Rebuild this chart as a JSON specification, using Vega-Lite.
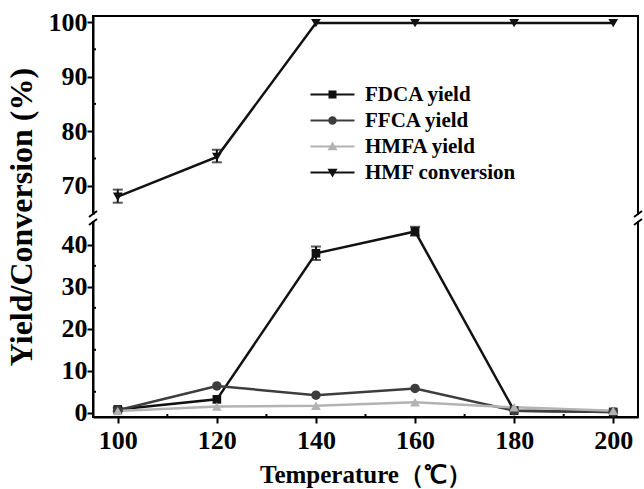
{
  "$schema": "https://vega.github.io/schema/vega-lite/v6.json",
  "width": 545,
  "height": 401,
  "autosize": {"type": "none"},
  "padding": {"left": 93, "top": 16, "right": 6, "bottom": 72},
  "background": "white",
  "config": {
    "view": {"stroke": "black", "strokeWidth": 2},
    "font": "Liberation Serif",
    "axis": {
      "domainColor": "black",
      "domainWidth": 2,
      "tickColor": "black",
      "tickWidth": 2,
      "tickSize": 6,
      "grid": false,
      "labelOverlap": false,
      "labelFont": "Liberation Serif",
      "labelFontWeight": "bold",
      "labelColor": "black",
      "labelFontSize": 26,
      "titleFont": "Liberation Serif",
      "titleFontWeight": "bold",
      "titleColor": "black"
    }
  },
  "datasets": {
    "main": [
      {"T": 100, "series": "FDCA yield", "v": 0.8, "lo": 0.4, "hi": 1.2},
      {"T": 120, "series": "FDCA yield", "v": 3.2},
      {"T": 140, "series": "FDCA yield", "v": 38.0, "lo": 36.4, "hi": 39.6},
      {"T": 160, "series": "FDCA yield", "v": 43.2, "lo": 42.2, "hi": 44.3},
      {"T": 180, "series": "FDCA yield", "v": 0.5},
      {"T": 200, "series": "FDCA yield", "v": 0.2},
      {"T": 100, "series": "FFCA yield", "v": 0.6},
      {"T": 120, "series": "FFCA yield", "v": 6.4},
      {"T": 140, "series": "FFCA yield", "v": 4.2},
      {"T": 160, "series": "FFCA yield", "v": 5.8},
      {"T": 180, "series": "FFCA yield", "v": 0.5},
      {"T": 200, "series": "FFCA yield", "v": 0.2},
      {"T": 100, "series": "HMFA yield", "v": 0.4},
      {"T": 120, "series": "HMFA yield", "v": 1.5},
      {"T": 140, "series": "HMFA yield", "v": 1.7},
      {"T": 160, "series": "HMFA yield", "v": 2.5},
      {"T": 180, "series": "HMFA yield", "v": 1.3},
      {"T": 200, "series": "HMFA yield", "v": 0.5},
      {"T": 100, "series": "HMF conversion", "v": 68.0, "lo": 66.9, "hi": 69.3},
      {"T": 120, "series": "HMF conversion", "v": 75.3, "lo": 74.3, "hi": 76.6},
      {"T": 140, "series": "HMF conversion", "v": 99.8},
      {"T": 160, "series": "HMF conversion", "v": 99.8},
      {"T": 180, "series": "HMF conversion", "v": 99.8},
      {"T": 200, "series": "HMF conversion", "v": 99.8}
    ],
    "minorY": [{"m": 5}, {"m": 15}, {"m": 25}, {"m": 35}, {"m": 75}, {"m": 85}, {"m": 95}],
    "minorX": [{"m": 110}, {"m": 130}, {"m": 150}, {"m": 170}, {"m": 190}],
    "gaps": [
      {"x": 95, "y": 64.65, "y2": 45.69},
      {"x": 205, "y": 64.65, "y2": 45.69}
    ],
    "slashes": [
      {"x": 94.19, "x2": 95.81, "y": 64.28, "y2": 65.38},
      {"x": 94.19, "x2": 95.81, "y": 44.73, "y2": 46.16},
      {"x": 204.19, "x2": 205.81, "y": 64.28, "y2": 65.38},
      {"x": 204.19, "x2": 205.81, "y": 44.73, "y2": 46.16}
    ]
  },
  "layer": [
    {
      "data": {"name": "main"},
      "mark": {"type": "line", "strokeWidth": 2.5},
      "encoding": {
        "x": {
          "field": "T",
          "type": "quantitative",
          "scale": {"domain": [95, 205], "nice": false, "zero": false},
          "axis": {
            "title": "Temperature（℃）",
            "titleFontSize": 25,
            "titlePadding": 9,
            "values": [100, 120, 140, 160, 180, 200],
            "labelPadding": 4,
            "labelFlush": false,
            "encode": {"ticks": {"update": {"y2": {"value": -6}}}}
          }
        },
        "y": {
          "field": "v",
          "type": "quantitative",
          "scale": {"domain": [-1, 46.4, 64.1, 101.1], "range": [401, 202, 202, 0], "nice": false, "zero": false},
          "axis": {
            "title": "Yield/Conversion (%)",
            "titleFontSize": 32,
            "titlePadding": 10,
            "values": [0, 10, 20, 30, 40, 70, 80, 90, 100],
            "labelPadding": 0,
            "labelFlush": false,
            "encode": {"ticks": {"update": {"x2": {"value": 6}}}}
          }
        },
        "color": {
          "field": "series",
          "type": "nominal",
          "scale": {
            "domain": ["FDCA yield", "FFCA yield", "HMFA yield", "HMF conversion"],
            "range": ["#111111", "#3d3d3d", "#b3b3b3", "#111111"]
          },
          "legend": {
            "title": null,
            "orient": "none",
            "legendX": 229,
            "legendY": 68,
            "padding": 0,
            "symbolSize": 100,
            "symbolStrokeWidth": 0,
            "labelOffset": 22,
            "rowPadding": 4,
            "labelFont": "Liberation Serif",
            "labelFontWeight": "bold",
            "labelFontSize": 21,
            "labelColor": "black",
            "labelLimit": 300,
            "encode": {
              "symbols": {
                "update": {
                  "opacity": {"value": 1},
                  "strokeWidth": {"value": 0},
                  "fill": {"scale": "color", "field": "value"},
                  "shape": {"signal": "datum.value === 'FDCA yield' ? 'M-4.4,-0.22H4.4V0.22H-4.4Z M-0.8,-0.8H0.8V0.8H-0.8Z' : datum.value === 'FFCA yield' ? 'M-4.4,-0.22H4.4V0.22H-4.4Z M0.85,0A0.85,0.85,0,1,1,-0.85,0A0.85,0.85,0,1,1,0.85,0Z' : datum.value === 'HMFA yield' ? 'M-4.4,-0.22H4.4V0.22H-4.4Z M1,0.75L-1,0.75L0,-1Z' : 'M-4.4,-0.22H4.4V0.22H-4.4Z M-1,-0.75L1,-0.75L0,1Z'"}
                }
              }
            }
          }
        },
        "detail": {"field": "series"}
      }
    },
    {
      "data": {"name": "minorY"},
      "mark": {"type": "rule", "strokeWidth": 2, "color": "black"},
      "encoding": {
        "x": {"datum": 95, "type": "quantitative"},
        "x2": {"datum": 95.6},
        "y": {"field": "m", "type": "quantitative"}
      }
    },
    {
      "data": {"name": "minorX"},
      "mark": {"type": "rule", "strokeWidth": 2, "color": "black"},
      "encoding": {
        "x": {"field": "m", "type": "quantitative"},
        "y": {"datum": -1, "type": "quantitative"},
        "y2": {"datum": -0.3}
      }
    },
    {
      "data": {"name": "main"},
      "transform": [{"filter": "isValid(datum.lo)"}],
      "mark": {"type": "rule", "strokeWidth": 2, "color": "#111111"},
      "encoding": {
        "x": {"field": "T", "type": "quantitative"},
        "y": {"field": "lo", "type": "quantitative"},
        "y2": {"field": "hi"}
      }
    },
    {
      "data": {"name": "main"},
      "transform": [{"filter": "isValid(datum.lo)"}],
      "mark": {"type": "tick", "orient": "horizontal", "thickness": 2, "size": 10, "color": "#111111"},
      "encoding": {
        "x": {"field": "T", "type": "quantitative"},
        "y": {"field": "lo", "type": "quantitative"}
      }
    },
    {
      "data": {"name": "main"},
      "transform": [{"filter": "isValid(datum.hi)"}],
      "mark": {"type": "tick", "orient": "horizontal", "thickness": 2, "size": 10, "color": "#111111"},
      "encoding": {
        "x": {"field": "T", "type": "quantitative"},
        "y": {"field": "hi", "type": "quantitative"}
      }
    },
    {
      "data": {"name": "main"},
      "transform": [{"filter": "datum.series === 'FDCA yield'"}],
      "mark": {"type": "point", "shape": "square", "filled": true, "opacity": 1, "size": 75, "strokeWidth": 0},
      "encoding": {
        "x": {"field": "T", "type": "quantitative"},
        "y": {"field": "v", "type": "quantitative"},
        "color": {"field": "series", "type": "nominal"}
      }
    },
    {
      "data": {"name": "main"},
      "transform": [{"filter": "datum.series === 'FFCA yield'"}],
      "mark": {"type": "point", "shape": "circle", "filled": true, "opacity": 1, "size": 90, "strokeWidth": 0},
      "encoding": {
        "x": {"field": "T", "type": "quantitative"},
        "y": {"field": "v", "type": "quantitative"},
        "color": {"field": "series", "type": "nominal"}
      }
    },
    {
      "data": {"name": "main"},
      "transform": [{"filter": "datum.series === 'HMFA yield'"}],
      "mark": {"type": "point", "shape": "triangle-up", "filled": true, "opacity": 1, "size": 95, "strokeWidth": 0},
      "encoding": {
        "x": {"field": "T", "type": "quantitative"},
        "y": {"field": "v", "type": "quantitative"},
        "color": {"field": "series", "type": "nominal"}
      }
    },
    {
      "data": {"name": "main"},
      "transform": [{"filter": "datum.series === 'HMF conversion'"}],
      "mark": {"type": "point", "shape": "triangle-down", "filled": true, "opacity": 1, "size": 95, "strokeWidth": 0},
      "encoding": {
        "x": {"field": "T", "type": "quantitative"},
        "y": {"field": "v", "type": "quantitative"},
        "color": {"field": "series", "type": "nominal"}
      }
    },
    {
      "data": {"name": "gaps"},
      "mark": {"type": "rule", "color": "white", "strokeWidth": 5},
      "encoding": {
        "x": {"field": "x", "type": "quantitative"},
        "y": {"field": "y", "type": "quantitative"},
        "y2": {"field": "y2"}
      }
    },
    {
      "data": {"name": "slashes"},
      "mark": {"type": "rule", "color": "black", "strokeWidth": 2},
      "encoding": {
        "x": {"field": "x", "type": "quantitative"},
        "x2": {"field": "x2"},
        "y": {"field": "y", "type": "quantitative"},
        "y2": {"field": "y2"}
      }
    }
  ]
}
